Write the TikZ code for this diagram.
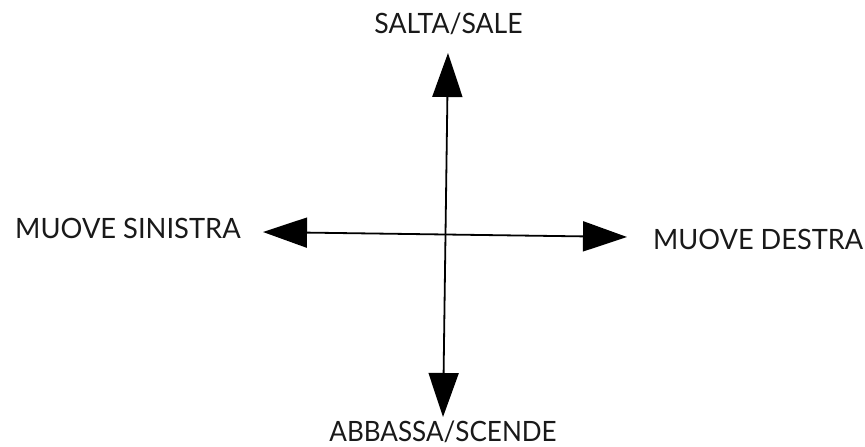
\documentclass[tikz,border=0pt]{standalone}
\usepackage{fontspec}
\setmainfont{Lato}
\usetikzlibrary{arrows.meta}
\newcommand{\sqz}[2]{\scalebox{#1}[1]{#2}}
\begin{document}
\begin{tikzpicture}[x=1pt,y=-1pt,
  lbl/.style={font=\fontsize{28}{28}\selectfont, inner sep=0pt, text=black!90},
  arr/.style={line width=1.8pt, -{Triangle[length=44pt,width=30pt]}}]
\useasboundingbox (0,0) rectangle (865,447);
\coordinate (c) at (445.5,234.5);
\coordinate (up) at (448,53);
\coordinate (down) at (443,417);
\coordinate (left) at (263,232);
\coordinate (right) at (627,237);
\draw[arr] (c) -- (up);
\draw[arr] (c) -- (down);
\draw[arr] (c) -- (left);
\draw[arr] (c) -- (right);
\node[lbl, anchor=base] (tup) at (448.5,33) {\sqz{0.95}{SALTA/SALE}};
\node[lbl, anchor=base west] (tleft) at (15,238) {\sqz{0.975}{MUOVE SINISTRA}};
\node[lbl, anchor=base west] (tright) at (653,249) {\sqz{0.97}{MUOVE DESTRA}};
\node[lbl, anchor=base] (tdown) at (443,441) {\sqz{0.93}{ABBASSA/SCENDE}};
\end{tikzpicture}
\end{document}
